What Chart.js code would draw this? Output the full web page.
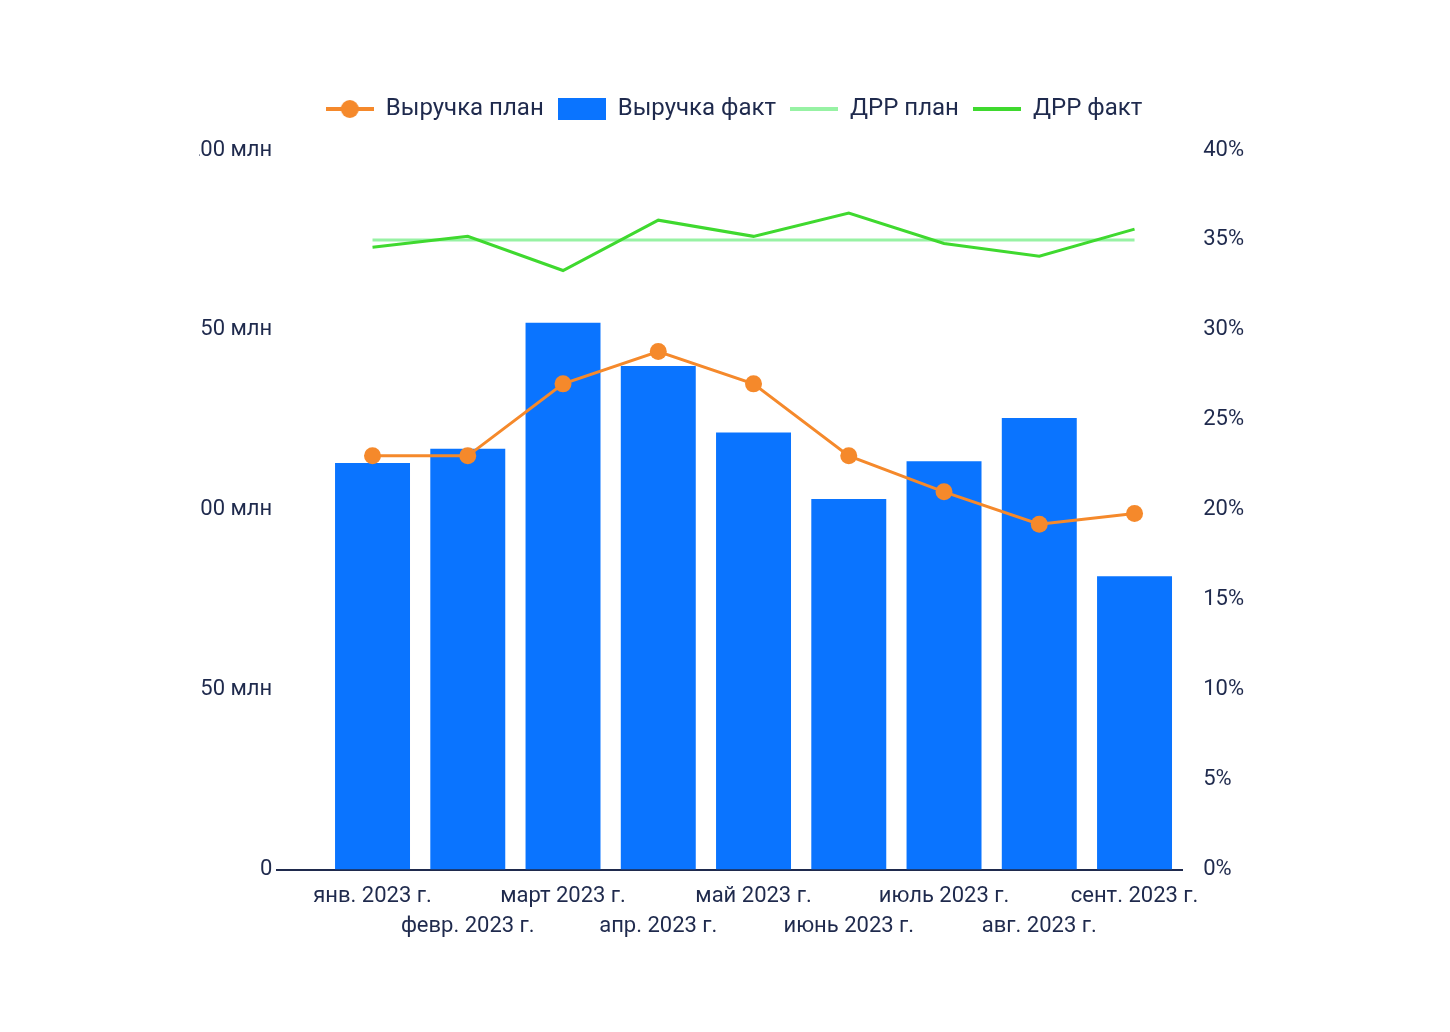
<!DOCTYPE html>
<html lang="ru">
<head>
  <meta charset="UTF-8" />
  <title>Выручка и ДРР</title>
  <script src="https://cdn.jsdelivr.net/npm/chart.js"></script>
  <style>
    html, body { margin: 0; padding: 0; background: #fff; }
    #wrap { width: 1450px; height: 1032px; }
  </style>
</head>
<body>
  <div id="wrap"><canvas id="chart" width="1450" height="1032"></canvas></div>

  <script>
    const months = ['янв. 2023 г.', 'февр. 2023 г.', 'март 2023 г.', 'апр. 2023 г.', 'май 2023 г.',
      'июнь 2023 г.', 'июль 2023 г.', 'авг. 2023 г.', 'сент. 2023 г.'];
    // млн
    const revenuePlan = [115, 115, 135, 144, 135, 115, 105, 96, 99];
    const revenueFact = [113, 117, 152, 140, 121.5, 103, 113.5, 125.5, 81.5];
    // %
    const drrPlan = [35, 35, 35, 35, 35, 35, 35, 35, 35];
    const drrFact = [34.6, 35.2, 33.3, 36.1, 35.2, 36.5, 34.8, 34.1, 35.6];

    const navy = '#1f2a4d';
    const orange = '#f5892b';
    const blue = '#0a74ff';
    const lightGreen = '#97f2a4';
    const green = '#3fd92f';

    Chart.defaults.font.family = 'Roboto, "Noto Sans", sans-serif';
    Chart.defaults.color = navy;

    const pts = arr => arr.map((v, i) => ({ x: i, y: v }));

    // little legend icons
    function icon(draw) {
      const c = document.createElement('canvas');
      c.width = 48; c.height = 24;
      draw(c.getContext('2d'));
      return c;
    }
    function lineIcon(color) {
      return icon(ctx => {
        ctx.strokeStyle = color; ctx.lineWidth = 4;
        ctx.beginPath(); ctx.moveTo(0, 12); ctx.lineTo(48, 12); ctx.stroke();
      });
    }
    const legendIcons = [
      icon(ctx => {
        ctx.strokeStyle = orange; ctx.lineWidth = 4;
        ctx.beginPath(); ctx.moveTo(0, 12); ctx.lineTo(48, 12); ctx.stroke();
        ctx.fillStyle = orange; ctx.beginPath(); ctx.arc(24, 12, 9, 0, Math.PI * 2); ctx.fill();
      }),
      icon(ctx => { ctx.fillStyle = blue; ctx.fillRect(0, 1, 48, 22); }),
      lineIcon(lightGreen),
      lineIcon(green)
    ];

    // left labels are cut off in the original
    const clipLeft = {
      id: 'clipLeft',
      beforeDraw(chart) {
        const ctx = chart.ctx;
        ctx.save();
        ctx.beginPath();
        ctx.rect(199, 0, chart.width - 199, chart.height);
        ctx.clip();
      },
      afterDraw(chart) { chart.ctx.restore(); }
    };

    // more room under the legend, and legend a bit to the right
    const legendGap = {
      id: 'legendGap',
      afterInit(chart) {
        const fit = chart.legend.fit;
        chart.legend.fit = function () {
          fit.call(this);
          this.height += 19;
        };
      },
      afterLayout(chart) {
        chart.legend.left += 10;
        chart.legend.right += 10;
      }
    };

    new Chart(document.getElementById('chart'), {
      type: 'bar',
      data: {
        datasets: [
          {
            type: 'line', label: 'Выручка план', data: pts(revenuePlan), yAxisID: 'y',
            borderColor: orange, backgroundColor: orange, borderWidth: 3,
            pointRadius: 8.5, pointBackgroundColor: orange, pointBorderWidth: 0,
            tension: 0, order: 0
          },
          {
            type: 'bar', label: 'Выручка факт', data: pts(revenueFact), yAxisID: 'y',
            backgroundColor: blue, barPercentage: 0.787, categoryPercentage: 1, order: 3
          },
          {
            type: 'line', label: 'ДРР план', data: pts(drrPlan), yAxisID: 'y1',
            borderColor: lightGreen, backgroundColor: lightGreen, borderWidth: 3,
            pointRadius: 0, tension: 0, order: 2
          },
          {
            type: 'line', label: 'ДРР факт', data: pts(drrFact), yAxisID: 'y1',
            borderColor: green, backgroundColor: green, borderWidth: 3,
            pointRadius: 0, tension: 0, order: 1
          }
        ]
      },
      options: {
        responsive: false,
        animation: false,
        layout: { padding: { left: 183, right: 185, top: 83, bottom: 79 } },
        plugins: {
          tooltip: { enabled: false },
          legend: {
            position: 'top',
            labels: {
              font: { size: 24 },
              color: navy,
              usePointStyle: true,
              pointStyleWidth: 48,
              boxHeight: 24,
              padding: 14,
              sort: (a, b) => a.datasetIndex - b.datasetIndex,
              generateLabels(chart) {
                const items = Chart.defaults.plugins.legend.labels.generateLabels(chart);
                items.forEach(it => { it.pointStyle = legendIcons[it.datasetIndex]; });
                return items;
              }
            }
          }
        },
        scales: {
          x: {
            type: 'linear',
            min: -1, max: 8.5,
            offset: false,
            grid: { display: false, drawTicks: false },
            border: { display: true, color: navy, width: 2 },
            afterBuildTicks(scale) { scale.ticks = months.map((m, i) => ({ value: i })); },
            ticks: {
              font: { size: 22, lineHeight: 1.35 },
              color: navy,
              maxRotation: 0,
              autoSkip: false,
              padding: 12,
              callback(v) { return v % 2 ? ['', months[v]] : months[v]; }
            }
          },
          y: {
            position: 'left',
            min: 0, max: 200,
            grid: { display: false, drawTicks: false },
            border: { display: false },
            ticks: {
              stepSize: 50,
              font: { size: 22 },
              color: navy,
              padding: 5,
              callback: v => v === 0 ? '0' : v + ' млн'
            }
          },
          y1: {
            position: 'right',
            min: 0, max: 40,
            grid: { display: false, drawTicks: false },
            border: { display: false },
            ticks: {
              stepSize: 5,
              font: { size: 22 },
              color: navy,
              padding: 21,
              callback: v => v + '%'
            }
          }
        }
      },
      plugins: [clipLeft, legendGap]
    });
  </script>
</body>
</html>
